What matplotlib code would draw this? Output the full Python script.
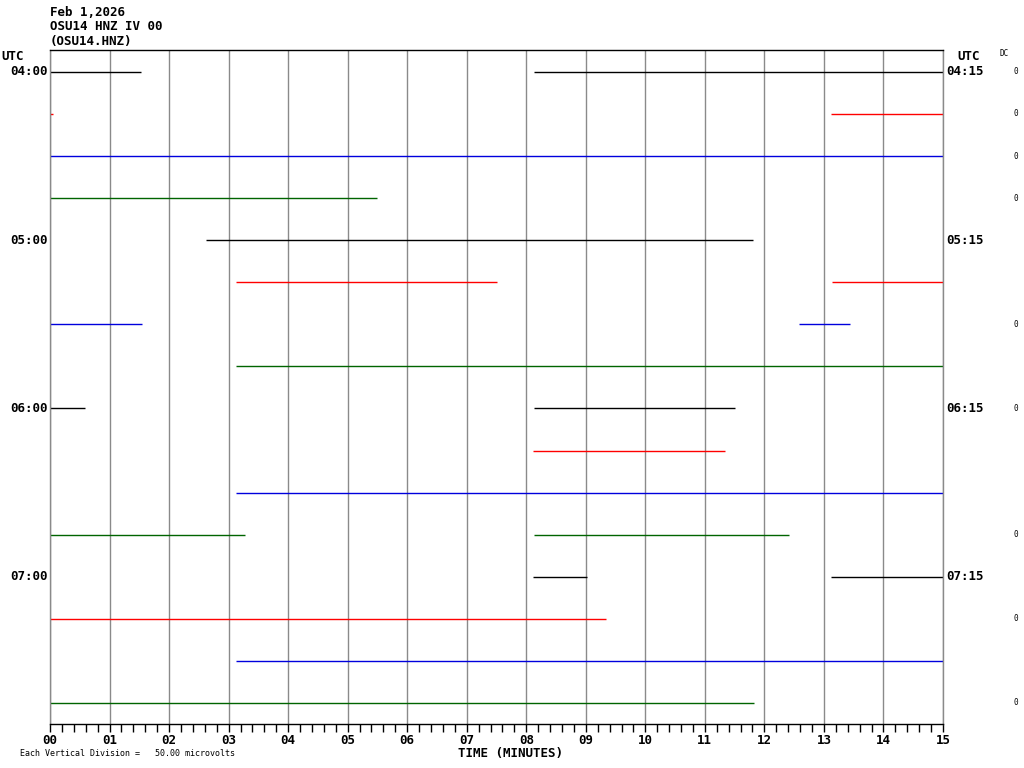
import numpy as np
import matplotlib.pyplot as plt
from matplotlib.ticker import MultipleLocator

# helicorder rows: 15 minute lines, start/end of each trace piece in minutes
segments = [
    [(0, 1.53), (8.13, 15)],
    [(0, 0.05), (13.12, 15)],
    [(0, 15)],
    [(0, 5.49)],
    [(2.62, 11.81)],
    [(3.12, 7.51), (13.13, 15)],
    [(0, 1.55), (12.58, 13.44)],
    [(3.12, 15)],
    [(0, 0.59), (8.13, 11.51)],
    [(8.12, 11.34)],
    [(3.12, 15)],
    [(0, 3.28), (8.13, 12.42)],
    [(8.12, 9.02), (13.12, 15)],
    [(0, 9.34)],
    [(3.12, 15)],
    [(0, 11.83)],
]
left_labels = {0: "04:00", 4: "05:00", 8: "06:00", 12: "07:00"}
right_labels = {0: "04:15", 4: "05:15", 8: "06:15", 12: "07:15"}
dc_rows = [0, 1, 2, 3, 6, 8, 11, 13, 15]
dc_vals = ["0"] * len(dc_rows)
minute_labels = ["%02d" % m for m in range(16)]
header = ["Feb 1,2026", "OSU14 HNZ IV 00", "(OSU14.HNZ)"]

colors = ["black", "red", "#0000dd", "#006400"]
mono = "DejaVu Sans Mono"
fs = 9

fig = plt.figure(figsize=(10.24, 7.68), dpi=100)
W, H = 1024, 768
ax = fig.add_axes([50 / W, 1 - 724 / H, (943 - 50) / W, (724 - 50) / H])

for i, segs in enumerate(segments):
    for s, e in segs:
        ax.plot([s, e], [i, i], color=colors[i % 4], lw=1.0, solid_capstyle="butt")

ax.set_xlim(0, 15)
ax.set_ylim(15.5, -0.52)
ax.xaxis.set_minor_locator(MultipleLocator(0.2))
ax.set_xticks(range(16))
ax.set_xticklabels(minute_labels, fontfamily=mono, fontweight="bold", fontsize=fs)
ax.tick_params(axis="x", which="both", direction="out", length=6, width=1, pad=1, color="black")
ax.set_yticks([])
ax.grid(True, axis="x", which="major", color="#8a8a8a", lw=1.0)
ax.set_axisbelow(True)
ax.spines["top"].set_color("black")
ax.spines["bottom"].set_color("black")
ax.spines["left"].set_color("#8a8a8a")
ax.spines["right"].set_color("#8a8a8a")
for sp in ax.spines.values():
    sp.set_linewidth(1.0)

ytr = ax.get_yaxis_transform()
for r, lab in left_labels.items():
    ax.text(-0.003, r, lab, transform=ytr, ha="right", va="center",
            fontfamily=mono, fontweight="bold", fontsize=fs)
for r, lab in right_labels.items():
    ax.text(1.004, r, lab, transform=ytr, ha="left", va="center",
            fontfamily=mono, fontweight="bold", fontsize=fs)
for r, v in zip(dc_rows, dc_vals):
    ax.text((1016 - 50) / 893, r, v, transform=ytr, ha="center", va="center",
            fontfamily=mono, fontsize=5.5)

for k, line in enumerate(header):
    fig.text(50 / W, 1 - (12 + 14.5 * k) / H, line, ha="left", va="center",
             fontfamily=mono, fontweight="bold", fontsize=fs)
fig.text(1 / W, 1 - 56 / H, "UTC", ha="left", va="center",
         fontfamily=mono, fontweight="bold", fontsize=fs)
fig.text(969 / W, 1 - 56 / H, "UTC", ha="center", va="center",
         fontfamily=mono, fontweight="bold", fontsize=fs)
fig.text(1004 / W, 1 - 53 / H, "DC", ha="center", va="center",
         fontfamily=mono, fontsize=5.5)
fig.text(510 / W, 1 - 754 / H, "TIME (MINUTES)", ha="center", va="center",
         fontfamily=mono, fontweight="bold", fontsize=fs)
fig.text(20 / W, 1 - 754 / H, "Each Vertical Division =   50.00 microvolts",
         ha="left", va="center", fontfamily=mono, fontsize=6)

fig.savefig("out.png", dpi=100)
